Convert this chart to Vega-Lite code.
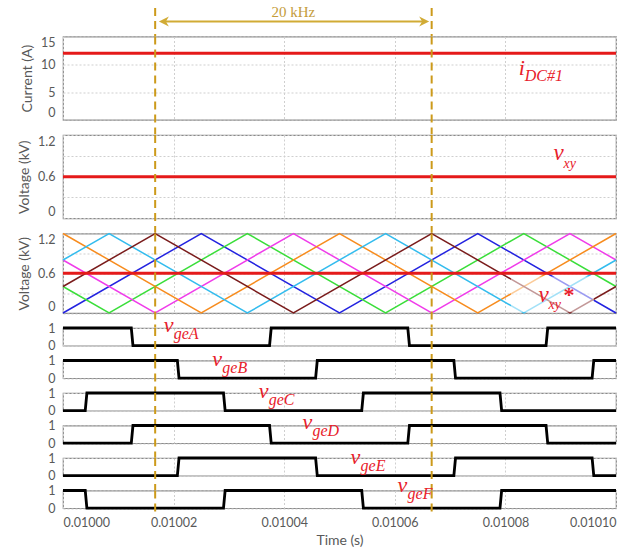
{
  "$schema": "https://vega.github.io/schema/vega-lite/v6.json",
  "padding": {"left": 16, "top": 2, "right": 10, "bottom": 4},
  "spacing": 14.5,
  "bounds": "flush",
  "datasets": {
    "markers": [{"t": 0.0100166667}, {"t": 0.0100666667}],
    "idc": [{"t": 0.01, "i": 12}, {"t": 0.0101, "i": 12}],
    "vxy": [{"t": 0.01, "v": 0.6}, {"t": 0.0101, "v": 0.6}],
    "carriers": [
      {"c": "c1", "t": 0.01, "v": 0}, {"c": "c1", "t": 0.010025, "v": 1.2}, {"c": "c1", "t": 0.01005, "v": 0}, {"c": "c1", "t": 0.010075, "v": 1.2}, {"c": "c1", "t": 0.0101, "v": 0},
      {"c": "c2", "t": 0.01, "v": 0.4}, {"c": "c2", "t": 0.0100083333, "v": 0}, {"c": "c2", "t": 0.0100333333, "v": 1.2}, {"c": "c2", "t": 0.0100583333, "v": 0}, {"c": "c2", "t": 0.0100833333, "v": 1.2}, {"c": "c2", "t": 0.0101, "v": 0.4},
      {"c": "c3", "t": 0.01, "v": 0.8}, {"c": "c3", "t": 0.0100166667, "v": 0}, {"c": "c3", "t": 0.0100416667, "v": 1.2}, {"c": "c3", "t": 0.0100666667, "v": 0}, {"c": "c3", "t": 0.0100916667, "v": 1.2}, {"c": "c3", "t": 0.0101, "v": 0.8},
      {"c": "c4", "t": 0.01, "v": 1.2}, {"c": "c4", "t": 0.010025, "v": 0}, {"c": "c4", "t": 0.01005, "v": 1.2}, {"c": "c4", "t": 0.010075, "v": 0}, {"c": "c4", "t": 0.0101, "v": 1.2},
      {"c": "c5", "t": 0.01, "v": 0.8}, {"c": "c5", "t": 0.0100083333, "v": 1.2}, {"c": "c5", "t": 0.0100333333, "v": 0}, {"c": "c5", "t": 0.0100583333, "v": 1.2}, {"c": "c5", "t": 0.0100833333, "v": 0}, {"c": "c5", "t": 0.0101, "v": 0.8},
      {"c": "c6", "t": 0.01, "v": 0.4}, {"c": "c6", "t": 0.0100166667, "v": 1.2}, {"c": "c6", "t": 0.0100416667, "v": 0}, {"c": "c6", "t": 0.0100666667, "v": 1.2}, {"c": "c6", "t": 0.0100916667, "v": 0}, {"c": "c6", "t": 0.0101, "v": 0.4}
    ],
    "gates": [
      {"g": "A", "t": 0.01, "s": 1}, {"g": "A", "t": 0.01001235, "s": 1}, {"g": "A", "t": 0.01001265, "s": 0}, {"g": "A", "t": 0.01003735, "s": 0}, {"g": "A", "t": 0.01003765, "s": 1}, {"g": "A", "t": 0.01006235, "s": 1}, {"g": "A", "t": 0.01006265, "s": 0}, {"g": "A", "t": 0.01008735, "s": 0}, {"g": "A", "t": 0.01008765, "s": 1}, {"g": "A", "t": 0.0101, "s": 1},
      {"g": "B", "t": 0.01, "s": 1}, {"g": "B", "t": 0.01002068, "s": 1}, {"g": "B", "t": 0.01002098, "s": 0}, {"g": "B", "t": 0.01004568, "s": 0}, {"g": "B", "t": 0.01004598, "s": 1}, {"g": "B", "t": 0.01007068, "s": 1}, {"g": "B", "t": 0.01007098, "s": 0}, {"g": "B", "t": 0.01009568, "s": 0}, {"g": "B", "t": 0.01009598, "s": 1}, {"g": "B", "t": 0.0101, "s": 1},
      {"g": "C", "t": 0.01, "s": 0}, {"g": "C", "t": 0.01000402, "s": 0}, {"g": "C", "t": 0.01000432, "s": 1}, {"g": "C", "t": 0.01002902, "s": 1}, {"g": "C", "t": 0.01002932, "s": 0}, {"g": "C", "t": 0.01005402, "s": 0}, {"g": "C", "t": 0.01005432, "s": 1}, {"g": "C", "t": 0.01007902, "s": 1}, {"g": "C", "t": 0.01007932, "s": 0}, {"g": "C", "t": 0.0101, "s": 0},
      {"g": "D", "t": 0.01, "s": 0}, {"g": "D", "t": 0.01001235, "s": 0}, {"g": "D", "t": 0.01001265, "s": 1}, {"g": "D", "t": 0.01003735, "s": 1}, {"g": "D", "t": 0.01003765, "s": 0}, {"g": "D", "t": 0.01006235, "s": 0}, {"g": "D", "t": 0.01006265, "s": 1}, {"g": "D", "t": 0.01008735, "s": 1}, {"g": "D", "t": 0.01008765, "s": 0}, {"g": "D", "t": 0.0101, "s": 0},
      {"g": "E", "t": 0.01, "s": 0}, {"g": "E", "t": 0.01002068, "s": 0}, {"g": "E", "t": 0.01002098, "s": 1}, {"g": "E", "t": 0.01004568, "s": 1}, {"g": "E", "t": 0.01004598, "s": 0}, {"g": "E", "t": 0.01007068, "s": 0}, {"g": "E", "t": 0.01007098, "s": 1}, {"g": "E", "t": 0.01009568, "s": 1}, {"g": "E", "t": 0.01009598, "s": 0}, {"g": "E", "t": 0.0101, "s": 0},
      {"g": "F", "t": 0.01, "s": 1}, {"g": "F", "t": 0.01000402, "s": 1}, {"g": "F", "t": 0.01000432, "s": 0}, {"g": "F", "t": 0.01002902, "s": 0}, {"g": "F", "t": 0.01002932, "s": 1}, {"g": "F", "t": 0.01005402, "s": 1}, {"g": "F", "t": 0.01005432, "s": 0}, {"g": "F", "t": 0.01007902, "s": 0}, {"g": "F", "t": 0.01007932, "s": 1}, {"g": "F", "t": 0.0101, "s": 1}
    ]
  },
  "vconcat": [
    {
      "width": 553, "height": 19.5,
      "view": {"stroke": null},
      "layer": [
        {"data": {"values": [{}]}, "mark": {"type": "rule", "color": "#d1ab35", "strokeWidth": 2},
         "encoding": {"x": {"datum": 0.0100185, "type": "quantitative", "scale": {"domain": [0.01, 0.0101], "nice": false, "zero": false}, "axis": null},
                      "x2": {"datum": 0.0100650},
                      "y": {"datum": 0, "type": "quantitative", "scale": {"domain": [0, 1]}, "axis": null}}},
        {"data": {"values": [{}]}, "mark": {"type": "point", "shape": "M0,0 L2,-1 L1.4,0 L2,1 Z", "size": 100, "filled": true, "color": "#d1ab35", "opacity": 1},
         "encoding": {"x": {"datum": 0.01001734, "type": "quantitative", "axis": null}, "y": {"datum": 0, "type": "quantitative", "axis": null}}},
        {"data": {"values": [{}]}, "mark": {"type": "point", "shape": "M0,0 L-2,-1 L-1.4,0 L-2,1 Z", "size": 100, "filled": true, "color": "#d1ab35", "opacity": 1},
         "encoding": {"x": {"datum": 0.01006621, "type": "quantitative", "axis": null}, "y": {"datum": 0, "type": "quantitative", "axis": null}}},
        {"data": {"values": [{}]}, "mark": {"type": "text", "text": "20 kHz", "font": "Liberation Serif", "fontSize": 15, "color": "#c49c3a", "align": "center", "baseline": "middle"},
         "encoding": {"x": {"datum": 0.0100416667, "type": "quantitative", "axis": null}, "y": {"datum": 0.487, "type": "quantitative", "axis": null}}},
        {"data": {"name": "markers"}, "mark": {"type": "rule", "strokeDash": [8, 5], "strokeWidth": 2, "color": "#cc9a1a"},
         "encoding": {"x": {"field": "t", "type": "quantitative", "axis": null}, "y": {"datum": 0.692, "type": "quantitative", "axis": null}, "y2": {"datum": -0.744}}}
      ]
    },
    {
      "width": 553, "height": 83.3,
      "resolve": {"axis": {"x": "independent", "y": "independent"}},
      "layer": [
        {"data": {"name": "idc"}, "mark": {"type": "line", "color": "#e51a1a", "strokeWidth": 3},
         "encoding": {"x": {"field": "t", "type": "quantitative", "scale": {"domain": [0.01, 0.0101], "nice": false, "zero": false}, "axis": {"values": [0.01, 0.01002, 0.01004, 0.01006, 0.01008, 0.0101], "labels": false, "title": null, "grid": true}},
                      "y": {"field": "i", "type": "quantitative", "scale": {"domain": [0, 15], "nice": false}, "axis": {"values": [0, 5, 10, 15], "format": "d", "title": "Current (A)", "labelFlush": true, "grid": true}}}},
        {"data": {"values": [{}]}, "mark": {"type": "text", "text": "i", "font": "Liberation Serif", "fontStyle": "italic", "fontSize": 22, "color": "#e8202a", "align": "left", "baseline": "alphabetic"},
         "encoding": {"x": {"datum": 0.0100824, "type": "quantitative", "axis": null}, "y": {"datum": 8, "type": "quantitative", "axis": null}}},
        {"data": {"values": [{}]}, "mark": {"type": "text", "text": "DC#1", "font": "Liberation Serif", "fontStyle": "italic", "fontSize": 16, "color": "#e8202a", "align": "left", "baseline": "alphabetic", "dx": 6, "dy": 6},
         "encoding": {"x": {"datum": 0.0100824, "type": "quantitative", "axis": null}, "y": {"datum": 8, "type": "quantitative", "axis": null}}},
        {"data": {"name": "markers"}, "mark": {"type": "rule", "strokeDash": [8, 5], "strokeWidth": 2, "color": "#cc9a1a"},
         "encoding": {"x": {"field": "t", "type": "quantitative", "axis": null}, "y": {"datum": 15, "type": "quantitative", "axis": null}, "y2": {"datum": -2.61}}}
      ]
    },
    {
      "width": 553, "height": 83.3,
      "resolve": {"axis": {"x": "independent", "y": "independent"}},
      "layer": [
        {"data": {"name": "vxy"}, "mark": {"type": "line", "color": "#e51a1a", "strokeWidth": 3},
         "encoding": {"x": {"field": "t", "type": "quantitative", "scale": {"domain": [0.01, 0.0101], "nice": false, "zero": false}, "axis": {"values": [0.01, 0.01002, 0.01004, 0.01006, 0.01008, 0.0101], "labels": false, "title": null, "grid": true}},
                      "y": {"field": "v", "type": "quantitative", "scale": {"domain": [0, 1.2], "nice": false}, "axis": {"values": [0, 0.3, 0.6, 0.9, 1.2], "labelExpr": "datum.value == 0 ? '0' : datum.value == 0.6 ? '0.6' : datum.value == 1.2 ? '1.2' : ''", "title": "Voltage (kV)", "labelFlush": true, "grid": true}}}},
        {"data": {"values": [{}]}, "mark": {"type": "text", "text": "v", "font": "Liberation Serif", "fontStyle": "italic", "fontSize": 23, "color": "#e8202a", "align": "left", "baseline": "alphabetic"},
         "encoding": {"x": {"datum": 0.0100887, "type": "quantitative", "axis": null}, "y": {"datum": 0.845, "type": "quantitative", "axis": null}}},
        {"data": {"values": [{}]}, "mark": {"type": "text", "text": "xy", "font": "Liberation Serif", "fontStyle": "italic", "fontSize": 14, "color": "#e8202a", "align": "left", "baseline": "alphabetic", "dx": 10, "dy": 8},
         "encoding": {"x": {"datum": 0.0100887, "type": "quantitative", "axis": null}, "y": {"datum": 0.845, "type": "quantitative", "axis": null}}},
        {"data": {"name": "markers"}, "mark": {"type": "rule", "strokeDash": [8, 5], "strokeWidth": 2, "color": "#cc9a1a"},
         "encoding": {"x": {"field": "t", "type": "quantitative", "axis": null}, "y": {"datum": 1.2, "type": "quantitative", "axis": null}, "y2": {"datum": -0.209}}}
      ]
    },
    {
      "width": 553, "height": 79.5,
      "resolve": {"axis": {"x": "independent", "y": "independent"}},
      "layer": [
        {"data": {"name": "carriers"}, "mark": {"type": "line", "strokeWidth": 1.5},
         "encoding": {"x": {"field": "t", "type": "quantitative", "scale": {"domain": [0.01, 0.0101], "nice": false, "zero": false}, "axis": {"values": [0.01, 0.01002, 0.01004, 0.01006, 0.01008, 0.0101], "labels": false, "title": null, "grid": true}},
                      "y": {"field": "v", "type": "quantitative", "scale": {"domain": [0, 1.2], "nice": false}, "axis": {"values": [0, 0.3, 0.6, 0.9, 1.2], "labelExpr": "datum.value == 0 ? '0' : datum.value == 0.6 ? '0.6' : datum.value == 1.2 ? '1.2' : ''", "title": "Voltage (kV)", "labelFlush": true, "grid": true}},
                      "color": {"field": "c", "type": "nominal", "scale": {"domain": ["c1", "c2", "c3", "c4", "c5", "c6"], "range": ["#2323e0", "#3ade3a", "#f03cea", "#f78c1e", "#33bcee", "#7a1c1c"]}, "legend": null}}},
        {"data": {"values": [{}]}, "mark": {"type": "rect", "fill": "#ffffff", "opacity": 0.55},
         "encoding": {"x": {"datum": 0.010081, "type": "quantitative", "axis": null}, "x2": {"datum": 0.010096}, "y": {"datum": 0.01, "type": "quantitative", "axis": null}, "y2": {"datum": 0.55}}},
        {"data": {"name": "vxy"}, "mark": {"type": "line", "color": "#e51a1a", "strokeWidth": 3},
         "encoding": {"x": {"field": "t", "type": "quantitative", "axis": null}, "y": {"field": "v", "type": "quantitative", "axis": null}}},
        {"data": {"values": [{}]}, "mark": {"type": "text", "text": "v", "font": "Liberation Serif", "fontStyle": "italic", "fontSize": 23, "color": "#e8202a", "align": "left", "baseline": "alphabetic"},
         "encoding": {"x": {"datum": 0.010086, "type": "quantitative", "axis": null}, "y": {"datum": 0.16, "type": "quantitative", "axis": null}}},
        {"data": {"values": [{}]}, "mark": {"type": "text", "text": "xy", "font": "Liberation Serif", "fontStyle": "italic", "fontSize": 14, "color": "#e8202a", "align": "left", "baseline": "alphabetic", "dx": 10, "dy": 7},
         "encoding": {"x": {"datum": 0.010086, "type": "quantitative", "axis": null}, "y": {"datum": 0.16, "type": "quantitative", "axis": null}}},
        {"data": {"values": [{}]}, "mark": {"type": "text", "text": "*", "font": "Liberation Serif", "fontWeight": "bold", "fontSize": 22, "color": "#e8202a", "align": "left", "baseline": "alphabetic", "dx": 25, "dy": 0},
         "encoding": {"x": {"datum": 0.010086, "type": "quantitative", "axis": null}, "y": {"datum": 0.16, "type": "quantitative", "axis": null}}},
        {"data": {"name": "markers"}, "mark": {"type": "rule", "strokeDash": [8, 5], "strokeWidth": 2, "color": "#cc9a1a"},
         "encoding": {"x": {"field": "t", "type": "quantitative", "axis": null}, "y": {"datum": 1.2, "type": "quantitative", "axis": null}, "y2": {"datum": -0.219}}}
      ]
    },
    {
      "width": 553, "height": 17.7,
      "resolve": {"axis": {"x": "independent", "y": "independent"}},
      "layer": [
        {"data": {"name": "gates"}, "transform": [{"filter": "datum.g === 'A'"}], "mark": {"type": "line", "color": "#000000", "strokeWidth": 2.8},
         "encoding": {"x": {"field": "t", "type": "quantitative", "scale": {"domain": [0.01, 0.0101], "nice": false, "zero": false}, "axis": {"values": [0.01, 0.01002, 0.01004, 0.01006, 0.01008, 0.0101], "labels": false, "title": null, "grid": true}},
                      "y": {"field": "s", "type": "quantitative", "scale": {"domain": [0, 1], "nice": false}, "axis": {"values": [0, 1], "format": "d", "title": null, "grid": true}}}},
        {"data": {"name": "markers"}, "mark": {"type": "rule", "strokeDash": [8, 5], "strokeWidth": 2, "color": "#cc9a1a"},
         "encoding": {"x": {"field": "t", "type": "quantitative", "axis": null}, "y": {"datum": 1, "type": "quantitative", "axis": null}, "y2": {"datum": -0.819}}},
        {"data": {"values": [{}]}, "mark": {"type": "text", "text": "v", "font": "Liberation Serif", "fontStyle": "italic", "fontSize": 22, "color": "#e8202a", "align": "left", "baseline": "alphabetic"},
         "encoding": {"x": {"datum": 0.0100182, "type": "quantitative", "axis": null}, "y": {"datum": 0.76, "type": "quantitative", "axis": null}}},
        {"data": {"values": [{}]}, "mark": {"type": "text", "text": "geA", "font": "Liberation Serif", "fontStyle": "italic", "fontSize": 16, "color": "#e8202a", "align": "left", "baseline": "alphabetic", "dx": 10, "dy": 7},
         "encoding": {"x": {"datum": 0.0100182, "type": "quantitative", "axis": null}, "y": {"datum": 0.76, "type": "quantitative", "axis": null}}}
      ]
    },
    {
      "width": 553, "height": 17.7,
      "resolve": {"axis": {"x": "independent", "y": "independent"}},
      "layer": [
        {"data": {"name": "gates"}, "transform": [{"filter": "datum.g === 'B'"}], "mark": {"type": "line", "color": "#000000", "strokeWidth": 2.8},
         "encoding": {"x": {"field": "t", "type": "quantitative", "scale": {"domain": [0.01, 0.0101], "nice": false, "zero": false}, "axis": {"values": [0.01, 0.01002, 0.01004, 0.01006, 0.01008, 0.0101], "labels": false, "title": null, "grid": true}},
                      "y": {"field": "s", "type": "quantitative", "scale": {"domain": [0, 1], "nice": false}, "axis": {"values": [0, 1], "format": "d", "title": null, "grid": true}}}},
        {"data": {"name": "markers"}, "mark": {"type": "rule", "strokeDash": [8, 5], "strokeWidth": 2, "color": "#cc9a1a"},
         "encoding": {"x": {"field": "t", "type": "quantitative", "axis": null}, "y": {"datum": 1, "type": "quantitative", "axis": null}, "y2": {"datum": -0.819}}},
        {"data": {"values": [{}]}, "mark": {"type": "text", "text": "v", "font": "Liberation Serif", "fontStyle": "italic", "fontSize": 22, "color": "#e8202a", "align": "left", "baseline": "alphabetic"},
         "encoding": {"x": {"datum": 0.010027, "type": "quantitative", "axis": null}, "y": {"datum": 0.69, "type": "quantitative", "axis": null}}},
        {"data": {"values": [{}]}, "mark": {"type": "text", "text": "geB", "font": "Liberation Serif", "fontStyle": "italic", "fontSize": 16, "color": "#e8202a", "align": "left", "baseline": "alphabetic", "dx": 10, "dy": 7},
         "encoding": {"x": {"datum": 0.010027, "type": "quantitative", "axis": null}, "y": {"datum": 0.69, "type": "quantitative", "axis": null}}}
      ]
    },
    {
      "width": 553, "height": 17.7,
      "resolve": {"axis": {"x": "independent", "y": "independent"}},
      "layer": [
        {"data": {"name": "gates"}, "transform": [{"filter": "datum.g === 'C'"}], "mark": {"type": "line", "color": "#000000", "strokeWidth": 2.8},
         "encoding": {"x": {"field": "t", "type": "quantitative", "scale": {"domain": [0.01, 0.0101], "nice": false, "zero": false}, "axis": {"values": [0.01, 0.01002, 0.01004, 0.01006, 0.01008, 0.0101], "labels": false, "title": null, "grid": true}},
                      "y": {"field": "s", "type": "quantitative", "scale": {"domain": [0, 1], "nice": false}, "axis": {"values": [0, 1], "format": "d", "title": null, "grid": true}}}},
        {"data": {"name": "markers"}, "mark": {"type": "rule", "strokeDash": [8, 5], "strokeWidth": 2, "color": "#cc9a1a"},
         "encoding": {"x": {"field": "t", "type": "quantitative", "axis": null}, "y": {"datum": 1, "type": "quantitative", "axis": null}, "y2": {"datum": -0.819}}},
        {"data": {"values": [{}]}, "mark": {"type": "text", "text": "v", "font": "Liberation Serif", "fontStyle": "italic", "fontSize": 22, "color": "#e8202a", "align": "left", "baseline": "alphabetic"},
         "encoding": {"x": {"datum": 0.0100354, "type": "quantitative", "axis": null}, "y": {"datum": 0.72, "type": "quantitative", "axis": null}}},
        {"data": {"values": [{}]}, "mark": {"type": "text", "text": "geC", "font": "Liberation Serif", "fontStyle": "italic", "fontSize": 16, "color": "#e8202a", "align": "left", "baseline": "alphabetic", "dx": 10, "dy": 7},
         "encoding": {"x": {"datum": 0.0100354, "type": "quantitative", "axis": null}, "y": {"datum": 0.72, "type": "quantitative", "axis": null}}}
      ]
    },
    {
      "width": 553, "height": 17.7,
      "resolve": {"axis": {"x": "independent", "y": "independent"}},
      "layer": [
        {"data": {"name": "gates"}, "transform": [{"filter": "datum.g === 'D'"}], "mark": {"type": "line", "color": "#000000", "strokeWidth": 2.8},
         "encoding": {"x": {"field": "t", "type": "quantitative", "scale": {"domain": [0.01, 0.0101], "nice": false, "zero": false}, "axis": {"values": [0.01, 0.01002, 0.01004, 0.01006, 0.01008, 0.0101], "labels": false, "title": null, "grid": true}},
                      "y": {"field": "s", "type": "quantitative", "scale": {"domain": [0, 1], "nice": false}, "axis": {"values": [0, 1], "format": "d", "title": null, "grid": true}}}},
        {"data": {"name": "markers"}, "mark": {"type": "rule", "strokeDash": [8, 5], "strokeWidth": 2, "color": "#cc9a1a"},
         "encoding": {"x": {"field": "t", "type": "quantitative", "axis": null}, "y": {"datum": 1, "type": "quantitative", "axis": null}, "y2": {"datum": -0.819}}},
        {"data": {"values": [{}]}, "mark": {"type": "text", "text": "v", "font": "Liberation Serif", "fontStyle": "italic", "fontSize": 22, "color": "#e8202a", "align": "left", "baseline": "alphabetic"},
         "encoding": {"x": {"datum": 0.0100433, "type": "quantitative", "axis": null}, "y": {"datum": 0.8, "type": "quantitative", "axis": null}}},
        {"data": {"values": [{}]}, "mark": {"type": "text", "text": "geD", "font": "Liberation Serif", "fontStyle": "italic", "fontSize": 16, "color": "#e8202a", "align": "left", "baseline": "alphabetic", "dx": 10, "dy": 7},
         "encoding": {"x": {"datum": 0.0100433, "type": "quantitative", "axis": null}, "y": {"datum": 0.8, "type": "quantitative", "axis": null}}}
      ]
    },
    {
      "width": 553, "height": 17.7,
      "resolve": {"axis": {"x": "independent", "y": "independent"}},
      "layer": [
        {"data": {"name": "gates"}, "transform": [{"filter": "datum.g === 'E'"}], "mark": {"type": "line", "color": "#000000", "strokeWidth": 2.8},
         "encoding": {"x": {"field": "t", "type": "quantitative", "scale": {"domain": [0.01, 0.0101], "nice": false, "zero": false}, "axis": {"values": [0.01, 0.01002, 0.01004, 0.01006, 0.01008, 0.0101], "labels": false, "title": null, "grid": true}},
                      "y": {"field": "s", "type": "quantitative", "scale": {"domain": [0, 1], "nice": false}, "axis": {"values": [0, 1], "format": "d", "title": null, "grid": true}}}},
        {"data": {"name": "markers"}, "mark": {"type": "rule", "strokeDash": [8, 5], "strokeWidth": 2, "color": "#cc9a1a"},
         "encoding": {"x": {"field": "t", "type": "quantitative", "axis": null}, "y": {"datum": 1, "type": "quantitative", "axis": null}, "y2": {"datum": -0.819}}},
        {"data": {"values": [{}]}, "mark": {"type": "text", "text": "v", "font": "Liberation Serif", "fontStyle": "italic", "fontSize": 22, "color": "#e8202a", "align": "left", "baseline": "alphabetic"},
         "encoding": {"x": {"datum": 0.010052, "type": "quantitative", "axis": null}, "y": {"datum": 0.68, "type": "quantitative", "axis": null}}},
        {"data": {"values": [{}]}, "mark": {"type": "text", "text": "geE", "font": "Liberation Serif", "fontStyle": "italic", "fontSize": 16, "color": "#e8202a", "align": "left", "baseline": "alphabetic", "dx": 10, "dy": 7},
         "encoding": {"x": {"datum": 0.010052, "type": "quantitative", "axis": null}, "y": {"datum": 0.68, "type": "quantitative", "axis": null}}}
      ]
    },
    {
      "width": 553, "height": 17.7,
      "resolve": {"axis": {"x": "independent", "y": "independent"}},
      "layer": [
        {"data": {"name": "gates"}, "transform": [{"filter": "datum.g === 'F'"}], "mark": {"type": "line", "color": "#000000", "strokeWidth": 2.8},
         "encoding": {"x": {"field": "t", "type": "quantitative", "scale": {"domain": [0.01, 0.0101], "nice": false, "zero": false}, "axis": {"values": [0.01, 0.01002, 0.01004, 0.01006, 0.01008, 0.0101], "format": ".5f", "labelFlush": true, "title": "Time (s)", "grid": true, "labelPadding": 8, "titlePadding": 5}},
                      "y": {"field": "s", "type": "quantitative", "scale": {"domain": [0, 1], "nice": false}, "axis": {"values": [0, 1], "format": "d", "title": null, "grid": true}}}},
        {"data": {"name": "markers"}, "mark": {"type": "rule", "strokeDash": [8, 5], "strokeWidth": 2, "color": "#cc9a1a"},
         "encoding": {"x": {"field": "t", "type": "quantitative", "axis": null}, "y": {"datum": 1, "type": "quantitative", "axis": null}, "y2": {"datum": -0.31}}},
        {"data": {"values": [{}]}, "mark": {"type": "text", "text": "v", "font": "Liberation Serif", "fontStyle": "italic", "fontSize": 22, "color": "#e8202a", "align": "left", "baseline": "alphabetic"},
         "encoding": {"x": {"datum": 0.0100605, "type": "quantitative", "axis": null}, "y": {"datum": 0.93, "type": "quantitative", "axis": null}}},
        {"data": {"values": [{}]}, "mark": {"type": "text", "text": "geF", "font": "Liberation Serif", "fontStyle": "italic", "fontSize": 16, "color": "#e8202a", "align": "left", "baseline": "alphabetic", "dx": 10, "dy": 7},
         "encoding": {"x": {"datum": 0.0100605, "type": "quantitative", "axis": null}, "y": {"datum": 0.93, "type": "quantitative", "axis": null}}}
      ]
    }
  ],
  "config": {
    "view": {"stroke": "#8a8a8a", "strokeWidth": 1.2},
    "axis": {
      "labelFont": "Lato", "titleFont": "Lato", "labelColor": "#595959", "titleColor": "#595959",
      "labelFontSize": 12.5, "titleFontSize": 14, "titleFontWeight": "normal",
      "domain": false, "ticks": false, "gridColor": "#cfcfcf", "gridDash": [2, 2], "gridWidth": 1,
      "labelPadding": 8, "titlePadding": 6, "labelOverlap": false
    }
  }
}
